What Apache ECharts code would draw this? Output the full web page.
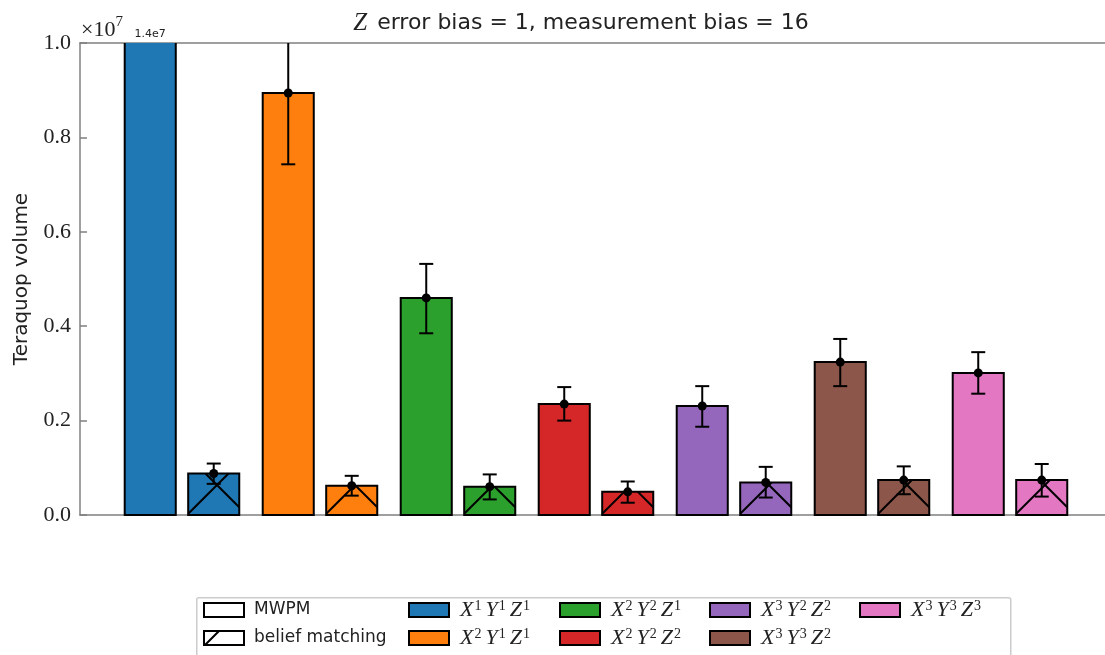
<!DOCTYPE html>
<html>
<head>
<meta charset="utf-8">
<script src="https://cdn.jsdelivr.net/npm/echarts@6/dist/echarts.min.js"></script>
<style>
html,body{margin:0;padding:0;background:#fff;}
#chart{width:1105px;height:655px;}
</style>
</head>
<body>
<div id="chart"></div>
<script>
// ---- data ----
const configs = ['X1Y1Z1', 'X2Y1Z1', 'X2Y2Z1', 'X2Y2Z2', 'X3Y2Z2', 'X3Y3Z2', 'X3Y3Z3'];
const colors = ['#1f77b4', '#ff7f0e', '#2ca02c', '#d62728', '#9467bd', '#8c564b', '#e377c2'];
const mwpmMean = [14.0e6, 8.94e6, 4.60e6, 2.35e6, 2.31e6, 3.24e6, 3.01e6];
const mwpmLow  = [13.0e6, 7.43e6, 3.85e6, 2.00e6, 1.87e6, 2.73e6, 2.57e6];
const mwpmHigh = [15.0e6, 10.45e6, 5.32e6, 2.71e6, 2.73e6, 3.73e6, 3.45e6];
const bmMean = [0.88e6, 0.62e6, 0.60e6, 0.49e6, 0.69e6, 0.74e6, 0.74e6];
const bmLow  = [0.66e6, 0.41e6, 0.33e6, 0.26e6, 0.37e6, 0.44e6, 0.39e6];
const bmHigh = [1.09e6, 0.83e6, 0.86e6, 0.71e6, 1.02e6, 1.03e6, 1.08e6];
const yTicks = [0, 2e6, 4e6, 6e6, 8e6, 10e6];
const methods = ['MWPM', 'belief matching'];

// ---- layout / style constants ----
const Y_MAX = 1e7;
const X_MIN = -0.739, X_MAX = 6.6885;
const BAR_WIDTH = 0.37;
const BAR_OFFSET = 0.23;
const HATCH_P = 69, HATCH_C1 = 12, HATCH_C2 = 8;
const SERIF = "'Liberation Serif', 'DejaVu Serif', serif";
const SANS = "'DejaVu Sans', sans-serif";
const SPINE = '#808080';

function hatchLines(x0, x1, y0, y1) {
  const out = [];
  let kmin = Math.ceil((x0 + y0 - HATCH_C1) / HATCH_P), kmax = Math.floor((x1 + y1 - HATCH_C1) / HATCH_P);
  for (let k = kmin; k <= kmax; k++) {
    const s = HATCH_C1 + k * HATCH_P;
    const xa = Math.max(x0, s - y1), xb = Math.min(x1, s - y0);
    if (xb > xa) out.push([xa, s - xa, xb, s - xb]);
  }
  kmin = Math.ceil((x0 - y1 - HATCH_C2) / HATCH_P); kmax = Math.floor((x1 - y0 - HATCH_C2) / HATCH_P);
  for (let k = kmin; k <= kmax; k++) {
    const d = HATCH_C2 + k * HATCH_P;
    const xa = Math.max(x0, y0 + d), xb = Math.min(x1, y1 + d);
    if (xb > xa) out.push([xa, xa - d, xb, xb - d]);
  }
  return out;
}

function renderItem(params, api) {
  const gx = api.value(0), mean = api.value(1), lo = api.value(2), hi = api.value(3), kind = api.value(4);
  const color = api.visual('color');
  const xc = gx + (kind === 0 ? -BAR_OFFSET : BAR_OFFSET);
  const top = api.coord([xc, Math.min(mean, Y_MAX)]);
  const base = api.coord([xc, 0]);
  const w = api.size([BAR_WIDTH, 0])[0];
  const x0 = top[0] - w / 2, x1 = top[0] + w / 2, y0 = top[1], y1 = base[1];
  const clipped = mean > Y_MAX;
  const children = [];
  children.push({type: 'rect', shape: {x: x0, y: y0, width: w, height: y1 - y0},
    style: {fill: color, stroke: clipped ? null : '#000', lineWidth: 2}});
  if (clipped) {
    children.push({type: 'polyline', shape: {points: [[x0, y0], [x0, y1], [x1, y1], [x1, y0]]},
      style: {fill: null, stroke: '#000', lineWidth: 2}});
    children.push({type: 'text', style: {text: mean.toExponential(1).replace('e+', 'e'),
      x: top[0], y: y0 - 9, align: 'center', verticalAlign: 'middle',
      font: "11px 'DejaVu Sans', sans-serif", fill: '#222'}});
  }
  if (kind === 1) {
    hatchLines(x0, x1, y0, y1).forEach(function (l) {
      children.push({type: 'line', shape: {x1: l[0], y1: l[1], x2: l[2], y2: l[3]},
        style: {stroke: '#000', lineWidth: 2}});
    });
  }
  if (lo < Y_MAX) {
    const pLo = api.coord([xc, lo])[1];
    const pHi = api.coord([xc, Math.min(hi, Y_MAX)])[1];
    children.push({type: 'line', shape: {x1: top[0], y1: pLo, x2: top[0], y2: pHi}, style: {stroke: '#000', lineWidth: 2}});
    children.push({type: 'line', shape: {x1: top[0] - 7, y1: pLo, x2: top[0] + 7, y2: pLo}, style: {stroke: '#000', lineWidth: 2}});
    if (hi <= Y_MAX) {
      children.push({type: 'line', shape: {x1: top[0] - 7, y1: pHi, x2: top[0] + 7, y2: pHi}, style: {stroke: '#000', lineWidth: 2}});
    }
  }
  if (!clipped) {
    children.push({type: 'circle', shape: {cx: top[0], cy: y0, r: 4.5}, style: {fill: '#000'}});
  }
  return {type: 'group', children: children};
}

const series = [];
methods.forEach(function (m) {
  series.push({type: 'custom', name: m, data: [], renderItem: function () { return null; }});
});
configs.forEach(function (c, i) {
  series.push({
    type: 'custom', name: c, clip: false,
    itemStyle: {color: colors[i], borderColor: '#000', borderWidth: 2},
    encode: {x: 0, y: 1},
    data: [[i, mwpmMean[i], mwpmLow[i], mwpmHigh[i], 0], [i, bmMean[i], bmLow[i], bmHigh[i], 1]],
    renderItem: renderItem
  });
});

function fmtCfg(name) {
  if (!/^X\d/.test(name)) return name;
  return name.replace(/([XYZ])(\d)/g, '{i|$1}{s|$2}');
}
const legendText = {
  fontFamily: SANS, fontSize: 17, color: '#222', padding: [0, 0, 0, 5], lineHeight: 22,
  rich: {
    i: {fontFamily: SERIF, fontStyle: 'italic', fontSize: 22, lineHeight: 22, verticalAlign: 'bottom', padding: [0, 1, 0, 1]},
    s: {fontFamily: SERIF, fontSize: 14, lineHeight: 22, verticalAlign: 'top', padding: [0, 3, 0, 0]}
  }
};
function mkLegend(left, names) {
  return {
    orient: 'vertical', left: left, top: 599, itemWidth: 40, itemHeight: 14, itemGap: 6,
    padding: 0, selectedMode: false, formatter: fmtCfg, textStyle: legendText,
    data: names.map(function (n) {
      if (n === 'MWPM') return {name: n, icon: 'rect', itemStyle: {color: '#fff', borderColor: '#000', borderWidth: 2}};
      if (n === 'belief matching') return {name: n, icon: 'path://M0,0L40,0L40,14L0,14Z M1,14L15,0',
        itemStyle: {color: '#fff', borderColor: '#000', borderWidth: 2}};
      return {name: n, icon: 'rect', itemStyle: {borderColor: '#000', borderWidth: 2}};
    })
  };
}

const axisLineOnly = {show: true, onZero: false, lineStyle: {color: SPINE, width: 1.5}};
const option = {
  animation: false,
  title: {
    text: '{z|Z} error bias = 1, measurement bias = 16',
    left: 576, top: 6, textAlign: 'center',
    textStyle: {fontFamily: SANS, fontSize: 22, fontWeight: 'normal', color: '#222',
      rich: {z: {fontFamily: SERIF, fontStyle: 'italic', fontSize: 25, padding: [0, 3, 0, 0]}}}
  },
  grid: {left: 80, top: 43, right: 0, bottom: 140, containLabel: false, outerBoundsMode: 'none'},
  xAxis: [
    {type: 'value', min: X_MIN, max: X_MAX, position: 'bottom', axisLine: axisLineOnly,
      axisTick: {show: false}, axisLabel: {show: false}, splitLine: {show: false}},
    {type: 'value', min: X_MIN, max: X_MAX, position: 'top', axisLine: axisLineOnly,
      axisTick: {show: false}, axisLabel: {show: false}, splitLine: {show: false}}
  ],
  yAxis: {
    type: 'value', min: 0, max: Y_MAX, interval: 2e6,
    name: 'Teraquop volume', nameLocation: 'middle', nameGap: 48,
    nameTextStyle: {fontFamily: SANS, fontSize: 20, color: '#222'},
    axisLine: axisLineOnly,
    axisTick: {show: true, inside: true, length: 7, lineStyle: {color: SPINE, width: 1.5}},
    splitLine: {show: false},
    axisLabel: {margin: 9, fontFamily: SERIF, fontSize: 22, color: '#222',
      formatter: function (v) { return (v / 1e7).toFixed(1); }}
  },
  legend: [
    mkLegend(203, methods),
    mkLegend(408, [configs[0], configs[1]]),
    mkLegend(559, [configs[2], configs[3]]),
    mkLegend(709, [configs[4], configs[5]]),
    mkLegend(859, [configs[6]])
  ],
  graphic: [
    {type: 'rect', left: 196, top: 597, shape: {width: 814, height: 80, r: 2}, z: -10,
      style: {fill: '#fff', stroke: '#cccccc', lineWidth: 1.5}},
    {type: 'text', left: 81, top: 15, style: {text: '{a|×10}{s|7}',
      rich: {a: {fontFamily: SERIF, fontSize: 22, fill: '#222', lineHeight: 26, verticalAlign: 'bottom'},
             s: {fontFamily: SERIF, fontSize: 15, fill: '#222', lineHeight: 26, verticalAlign: 'top'}}}}
  ],
  series: series
};
const chart = echarts.init(document.getElementById('chart'), null, {renderer: 'canvas'});
chart.setOption(option);
</script>
</body>
</html>
